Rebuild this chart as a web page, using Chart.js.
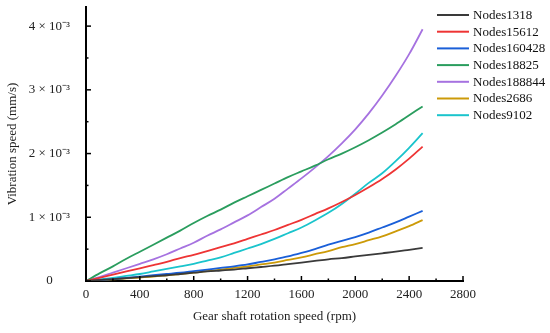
<!DOCTYPE html>
<html>
<head>
<meta charset="utf-8">
<script src="https://cdn.jsdelivr.net/npm/chart.js@4.4.1/dist/chart.umd.min.js"></script>
<style>
  html, body { margin: 0; padding: 0; background: #fff; }
  #wrap { width: 550px; height: 333px; }
</style>
</head>
<body>
<div id="wrap"><canvas id="myChart" width="550" height="333"></canvas></div>
<script>
'use strict';

// rotation speed (rpm)
let speeds = [0, 100, 200, 300, 400, 500, 600, 700, 800, 900, 1000, 1100, 1200,
  1300, 1400, 1500, 1600, 1700, 1800, 1900, 2000, 2100, 2200, 2300, 2400, 2500];

// vibration speed, in units of 10^-3 mm/s
let nodes1318 = [0, 0.015, 0.03, 0.045, 0.06, 0.075, 0.09, 0.11, 0.13, 0.15, 0.165, 0.18, 0.2,
  0.22, 0.24, 0.265, 0.29, 0.315, 0.34, 0.36, 0.385, 0.41, 0.435, 0.46, 0.49, 0.52];
let nodes15612 = [0, 0.05, 0.1, 0.15, 0.2, 0.25, 0.3, 0.36, 0.41, 0.47, 0.53, 0.59, 0.66,
  0.73, 0.8, 0.88, 0.96, 1.05, 1.14, 1.24, 1.35, 1.47, 1.6, 1.75, 1.92, 2.11];
let nodes160428 = [0, 0.015, 0.03, 0.05, 0.07, 0.09, 0.11, 0.13, 0.155, 0.18, 0.205, 0.23, 0.26,
  0.3, 0.34, 0.385, 0.44, 0.5, 0.57, 0.63, 0.69, 0.76, 0.84, 0.92, 1.01, 1.1];
let nodes18825 = [0, 0.12, 0.23, 0.35, 0.46, 0.57, 0.68, 0.79, 0.91, 1.02, 1.12, 1.23, 1.33,
  1.43, 1.53, 1.63, 1.72, 1.81, 1.91, 2.0, 2.1, 2.21, 2.33, 2.46, 2.6, 2.74];
let nodes188844 = [0, 0.06, 0.13, 0.2, 0.27, 0.34, 0.42, 0.51, 0.6, 0.71, 0.81, 0.92, 1.03,
  1.16, 1.29, 1.45, 1.61, 1.78, 1.96, 2.16, 2.38, 2.63, 2.91, 3.22, 3.56, 3.95];
let nodes2686 = [0, 0.012, 0.025, 0.04, 0.055, 0.07, 0.09, 0.11, 0.13, 0.155, 0.18, 0.205, 0.23,
  0.26, 0.29, 0.33, 0.37, 0.42, 0.47, 0.53, 0.58, 0.64, 0.7, 0.78, 0.86, 0.956];
let nodes9102 = [0, 0.025, 0.05, 0.08, 0.11, 0.15, 0.19, 0.23, 0.27, 0.32, 0.37, 0.44, 0.51,
  0.58, 0.66, 0.75, 0.84, 0.95, 1.07, 1.21, 1.37, 1.54, 1.69, 1.88, 2.09, 2.32];

let seriesNames = ['Nodes1318', 'Nodes15612', 'Nodes160428', 'Nodes18825', 'Nodes188844', 'Nodes2686', 'Nodes9102'];
let seriesValues = [nodes1318, nodes15612, nodes160428, nodes18825, nodes188844, nodes2686, nodes9102];
let seriesColors = ['#3a3a3a', '#ee3434', '#1a5fd8', '#2a9d5e', '#a672e0', '#cc9a08', '#1ac4cc'];

let xTicks = [0, 200, 400, 600, 800, 1000, 1200, 1400, 1600, 1800, 2000, 2200, 2400, 2600, 2800];
let yTicks = [0, 0.5, 1, 1.5, 2, 2.5, 3, 3.5, 4];

const serif = '"Liberation Serif", "Times New Roman", serif';

// ************ build datasets ************
let datasets = [];
for (let i = 0; i < seriesNames.length; i++) {
  let pts = [];
  for (let j = 0; j < speeds.length; j++) {
    pts.push({ x: speeds[j], y: seriesValues[i][j] });
  }
  datasets.push({
    label: seriesNames[i],
    data: pts,
    borderColor: seriesColors[i],
    backgroundColor: seriesColors[i],
    borderWidth: 1.8,
    pointRadius: 0,
    cubicInterpolationMode: 'monotone'
  });
}

// inward tick marks like the original figure
const innerTicks = {
  id: 'innerTicks',
  afterDraw(chart) {
    const c = chart.ctx;
    const xs = chart.scales.x;
    const ys = chart.scales.y;
    const area = chart.chartArea;
    c.save();
    c.strokeStyle = '#000';
    c.lineWidth = 1.5;
    xs.ticks.forEach(t => {
      let px = xs.getPixelForValue(t.value);
      let len = (t.value % 400 === 0) ? 5 : 2.5;
      c.beginPath();
      c.moveTo(px, area.bottom);
      c.lineTo(px, area.bottom - len);
      c.stroke();
    });
    ys.ticks.forEach(t => {
      let py = ys.getPixelForValue(t.value);
      let len = (Math.abs(t.value - Math.round(t.value)) < 1e-9) ? 5 : 2.5;
      c.beginPath();
      c.moveTo(area.left, py);
      c.lineTo(area.left + len, py);
      c.stroke();
    });
    c.restore();
  }
};

// legend sits inside the top right corner of the plot
const cornerLegend = {
  id: 'cornerLegend',
  afterDraw(chart) {
    const c = chart.ctx;
    c.save();
    c.font = '13px ' + serif;
    c.textBaseline = 'middle';
    c.fillStyle = '#111';
    chart.data.datasets.forEach((ds, i) => {
      let y = 15 + i * 16.7;
      c.strokeStyle = ds.borderColor;
      c.lineWidth = 2;
      c.beginPath();
      c.moveTo(437, y);
      c.lineTo(469, y);
      c.stroke();
      c.fillText(ds.label, 473, y + 0.5);
    });
    c.restore();
  }
};

const ctx = document.getElementById('myChart').getContext('2d');

const myChart = new Chart(ctx, {
  type: 'line',
  data: { datasets: datasets },
  plugins: [innerTicks, cornerLegend],
  options: {
    responsive: false,
    animation: false,
    layout: { padding: { top: 7, right: 87, left: 0, bottom: 0 } },
    plugins: {
      legend: { display: false },
      tooltip: { enabled: false }
    },
    scales: {
      x: {
        type: 'linear',
        min: 0,
        max: 2800,
        afterFit(scale) {
          scale.height = 52;
          scale.paddingLeft = 0;
          scale.paddingRight = 0;
        },
        afterBuildTicks(scale) { scale.ticks = xTicks.map(v => ({ value: v })); },
        grid: { display: false, drawTicks: false, tickLength: 0 },
        border: { display: true, color: '#000', width: 2 },
        ticks: {
          autoSkip: false,
          maxRotation: 0,
          padding: 6,
          color: '#222',
          font: { family: serif, size: 13 },
          callback: v => (v % 400 === 0 ? String(v) : '')
        },
        title: {
          display: true,
          text: 'Gear shaft rotation speed (rpm)',
          color: '#222',
          font: { family: serif, size: 13 },
          padding: { top: 4, bottom: 9 }
        }
      },
      y: {
        type: 'linear',
        min: 0,
        max: 4.3,
        afterFit(scale) {
          scale.width = 86;
          scale.paddingTop = 0;
          scale.paddingBottom = 0;
        },
        afterBuildTicks(scale) { scale.ticks = yTicks.map(v => ({ value: v })); },
        grid: { display: false, drawTicks: false, tickLength: 0 },
        border: { display: true, color: '#000', width: 2 },
        ticks: {
          autoSkip: false,
          padding: 16,
          crossAlign: 'center',
          color: '#222',
          font: { family: serif, size: 13 },
          callback: function (v) {
            if (Math.abs(v - Math.round(v)) > 1e-9) return '';
            let n = Math.round(v);
            return n === 0 ? '0' : n + ' \u00d7 10\u207b\u00b3';
          }
        },
        title: {
          display: true,
          text: 'Vibration speed (mm/s)',
          color: '#222',
          font: { family: serif, size: 13 },
          padding: { top: 5, bottom: 4 }
        }
      }
    }
  }
});
</script>
</body>
</html>
